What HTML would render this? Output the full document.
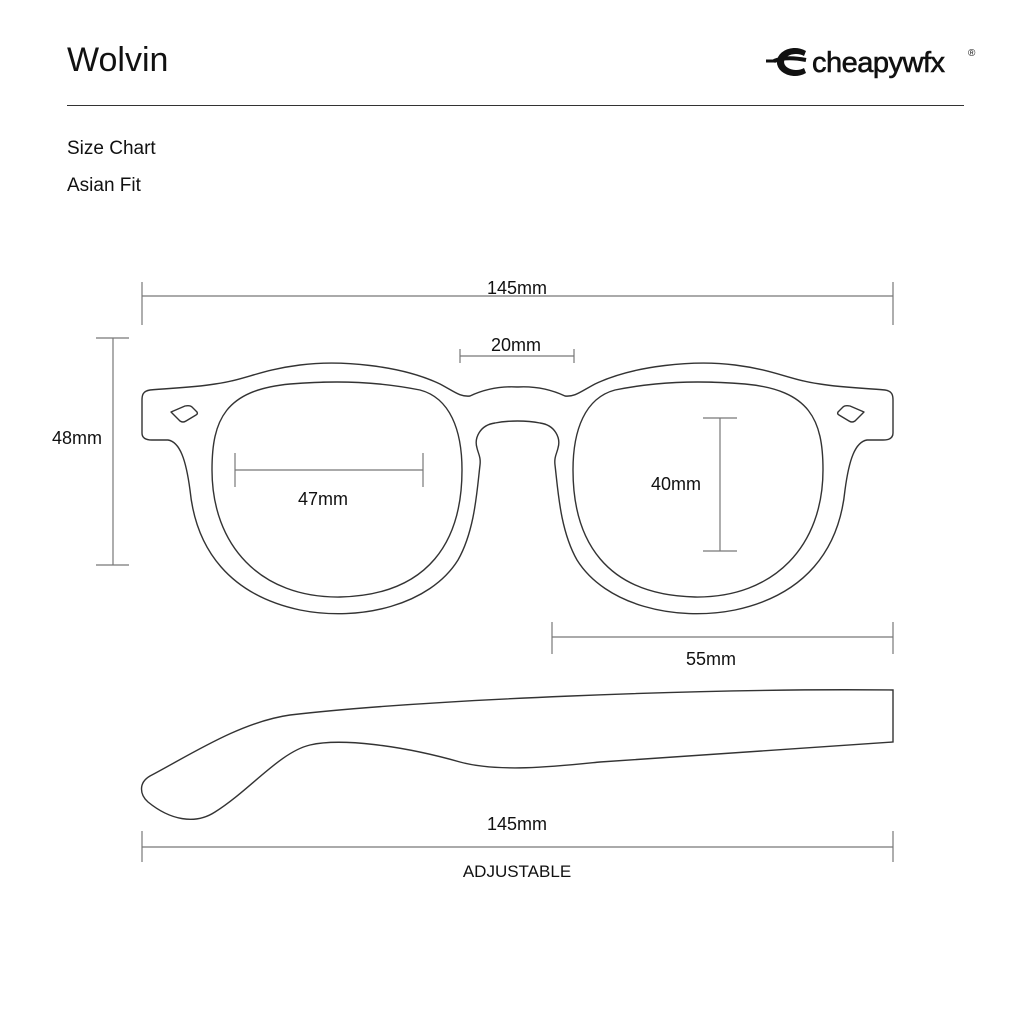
<!DOCTYPE html>
<html><head><meta charset="utf-8"><style>
html,body{margin:0;padding:0;background:#fff;}
body{width:1024px;height:1024px;overflow:hidden;font-family:"Liberation Sans",sans-serif;}
</style></head><body>
<svg width="1024" height="1024" viewBox="0 0 1024 1024" xmlns="http://www.w3.org/2000/svg" font-family="Liberation Sans, sans-serif">
<text x="67" y="71" font-size="34" fill="#111">Wolvin</text>
<g transform="translate(766,48)">
<path d="M0 13 H10" stroke="#111" stroke-width="3"/>
<path d="M40 3 A18 14 0 1 0 40 25 L38 20 A12 8 0 1 1 38 8 Z" fill="#111"/>
<path d="M8 13 Q20 8 40 12" stroke="#111" stroke-width="4" fill="none"/>
</g>
<text x="812" y="72" font-size="29" fill="#111" stroke="#111" stroke-width="0.6" letter-spacing="-0.5">cheapywfx</text>
<text x="968" y="56" font-size="10" fill="#111">®</text>
<line x1="67" y1="105.5" x2="964" y2="105.5" stroke="#333" stroke-width="1"/>
<text x="67" y="154" font-size="19" fill="#111">Size Chart</text>
<text x="67" y="191" font-size="19" fill="#111">Asian Fit</text>

<g stroke="#777" stroke-width="1.2" fill="none">
<line x1="142" y1="296" x2="893" y2="296"/><line x1="142" y1="282" x2="142" y2="325"/><line x1="893" y1="282" x2="893" y2="325"/>
<line x1="460" y1="356" x2="574" y2="356"/><line x1="460" y1="349" x2="460" y2="363"/><line x1="574" y1="349" x2="574" y2="363"/>
<line x1="113" y1="338" x2="113" y2="565"/><line x1="96" y1="338" x2="129" y2="338"/><line x1="96" y1="565" x2="129" y2="565"/>
<line x1="235" y1="470" x2="423" y2="470"/><line x1="235" y1="453" x2="235" y2="487"/><line x1="423" y1="453" x2="423" y2="487"/>
<line x1="720" y1="418" x2="720" y2="551"/><line x1="703" y1="418" x2="737" y2="418"/><line x1="703" y1="551" x2="737" y2="551"/>
<line x1="552" y1="637" x2="893" y2="637"/><line x1="552" y1="622" x2="552" y2="654"/><line x1="893" y1="622" x2="893" y2="654"/>
<line x1="142" y1="847" x2="893" y2="847"/><line x1="142" y1="831" x2="142" y2="862"/><line x1="893" y1="831" x2="893" y2="862"/>
</g>
<g font-size="18" fill="#111" text-anchor="middle">
<text x="517" y="294">145mm</text>
<text x="516" y="351">20mm</text>
<text x="77" y="444">48mm</text>
<text x="323" y="505">47mm</text>
<text x="676" y="490">40mm</text>
<text x="711" y="665">55mm</text>
<text x="517" y="830">145mm</text>
<text x="517" y="877" font-size="17">ADJUSTABLE</text>
</g>

<g id="half" stroke="#333" stroke-width="1.4" fill="none">
<path d="M517.5 387 C500 386 485 389 470 396 C460 397 455 392 440 384 C400 365 340 360 300 365 C260 370 245 380 215 384 C190 388 170 388 150 390 C143 391 142 395 142 400 L142 433 C142 438 146 440 152 440 L168 440 C180 442 186 460 190 490 C196 550 230 595 300 610 C360 622 430 605 458 560 C475 530 477 490 480 465 C481 457 478 453 477 448 C474 438 480 425 495 423 C505 421 512 421 517.5 421"/>
<path d="M212 470 C212 420 225 390 290 384 C340 380 380 382 420 390 C450 398 462 430 462 470 C462 540 430 595 340 597 C260 598 212 545 212 470 Z"/>
<path d="M171 412 L185 406 Q190 405 192 407 L197 412 Q198 414 196 415 L186 421 Q183 423 180 421 Z" stroke-linejoin="round"/>
</g>
<use href="#half" transform="translate(1035,0) scale(-1,1)"/>

<path d="M893 690 C700 688 420 700 290 715 C240 722 190 755 150 776 C138 783 140 795 148 802 C170 820 195 825 215 812 C250 790 280 752 310 745 C340 738 400 745 460 762 C500 773 560 766 600 762 L893 742 Z" stroke="#333" stroke-width="1.4" fill="none"/>
</svg>
</body></html>
